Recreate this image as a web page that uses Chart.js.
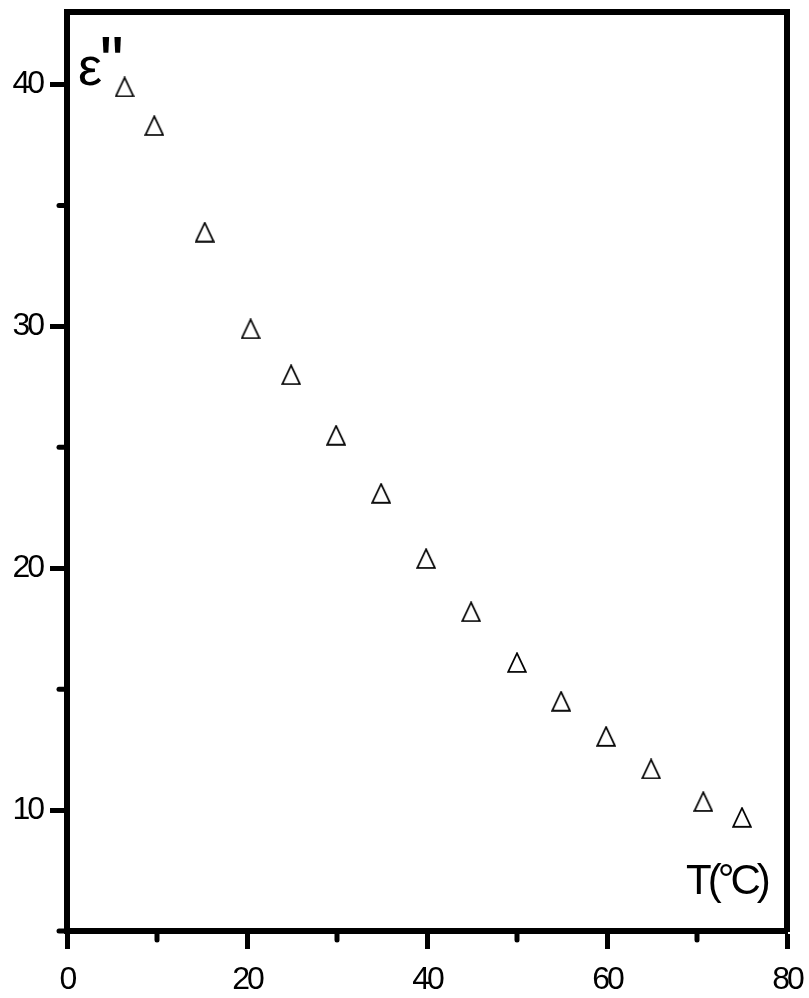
<!DOCTYPE html>
<html>
<head>
<meta charset="utf-8">
<script src="https://cdn.jsdelivr.net/npm/chart.js@4.4.1/dist/chart.umd.min.js"></script>
<style>
  body { margin: 0; background: #fff; }
  #wrap { width: 809px; height: 998px; }
</style>
</head>
<body>
<div id="wrap"><canvas id="lossChart"></canvas></div>
<script>
// dielectric loss vs temperature
const temperature = [6.4, 9.7, 15.3, 20.4, 24.9, 29.9, 34.9, 39.9, 44.9, 50.0, 54.9, 59.9, 64.9, 70.7, 75.0];
const lossFactor = [39.9, 38.3, 33.9, 29.9, 28.0, 25.5, 23.1, 20.4, 18.2, 16.1, 14.5, 13.05, 11.7, 10.35, 9.7];

const xTicks = [0, 20, 40, 60, 80];
const yTicks = [10, 20, 30, 40];
const xMinorTicks = [10, 30, 50, 70];
const yMinorTicks = [5, 15, 25, 35];

const FONT = "'Liberation Sans', Arial, sans-serif";

// open triangle marker
function makeTriangle(){
    const c = document.createElement("canvas");
    c.width = 20;
    c.height = 21;
    const g = c.getContext("2d");
    g.strokeStyle = "#000";
    g.lineWidth = 1.7;
    g.lineJoin = "miter";
    g.beginPath();
    g.moveTo(10, 1.2);
    g.lineTo(18.8, 19.8);
    g.lineTo(1.2, 19.8);
    g.closePath();
    g.stroke();
    return c;
}

// no extra room for labels hanging past the frame
function noOverhang(scale){
    scale.paddingTop = 0;
    scale.paddingBottom = 0;
    scale.paddingLeft = 0;
    scale.paddingRight = 0;
}

const tightText = {
    id: "tightText",
    beforeDraw(chart){
        chart.ctx.letterSpacing = "-3px";
    }
};

const minorTicks = {
    id: "minorTicks",
    afterDraw(chart){
        const ctx = chart.ctx;
        const area = chart.chartArea;
        ctx.save();
        ctx.strokeStyle = "#000";
        ctx.lineWidth = 5;
        ctx.lineCap = "round";
        xMinorTicks.forEach(function(v){
            const x = chart.scales.x.getPixelForValue(v);
            ctx.beginPath();
            ctx.moveTo(x, area.bottom);
            ctx.lineTo(x, area.bottom + 9);
            ctx.stroke();
        });
        yMinorTicks.forEach(function(v){
            const y = chart.scales.y.getPixelForValue(v);
            ctx.beginPath();
            ctx.moveTo(area.left, y);
            ctx.lineTo(area.left - 8, y);
            ctx.stroke();
        });
        ctx.restore();
    }
};

const axisNames = {
    id: "axisNames",
    afterDraw(chart){
        const ctx = chart.ctx;
        const area = chart.chartArea;
        ctx.save();
        ctx.fillStyle = "#000";
        ctx.textAlign = "left";
        ctx.textBaseline = "alphabetic";

        ctx.letterSpacing = "0px";
        ctx.font = "54px " + FONT;
        ctx.fillText("ε", area.left + 11, area.top + 73);
        ctx.font = "72px " + FONT;
        ctx.letterSpacing = "-2px";
        ctx.fillText("''", area.left + 32, area.top + 75);

        ctx.font = "42px " + FONT;
        ctx.letterSpacing = "-4px";
        ctx.fillText("T(°C)", area.right - 101, area.bottom - 37);
        ctx.restore();
    }
};

const ctx = document.getElementById("lossChart");

new Chart(ctx, {
    type: "scatter",
    data: {
        datasets: [{
            label: "ε''",
            data: temperature.map(function(t, i){ return { x: t, y: lossFactor[i] }; }),
            pointStyle: makeTriangle(),
            showLine: false
        }]
    },
    options: {
        responsive: true,
        maintainAspectRatio: false,
        animation: false,
        layout: {
            padding: { top: 12, right: 22, left: 0, bottom: 0 }
        },
        plugins: {
            legend: { display: false },
            tooltip: { enabled: false }
        },
        scales: {
            x: {
                type: "linear",
                position: "bottom",
                min: 0,
                max: 80,
                afterBuildTicks: function(scale){
                    scale.ticks = xTicks.map(function(v){ return { value: v }; });
                },
                afterFit: function(scale){ scale.height = 67; noOverhang(scale); },
                grid: {
                    drawOnChartArea: false,
                    drawTicks: true,
                    tickLength: 18,
                    tickWidth: 5,
                    tickColor: "#000"
                },
                border: { display: true, color: "#000", width: 6 },
                ticks: {
                    color: "#000",
                    padding: 12,
                    maxRotation: 0,
                    font: { family: FONT, size: 32 }
                }
            },
            y: {
                type: "linear",
                position: "left",
                min: 5,
                max: 43,
                afterBuildTicks: function(scale){
                    scale.ticks = yTicks.map(function(v){ return { value: v }; });
                },
                afterFit: function(scale){ scale.width = 67; noOverhang(scale); },
                grid: {
                    drawOnChartArea: false,
                    drawTicks: true,
                    tickLength: 17,
                    tickWidth: 5,
                    tickColor: "#000"
                },
                border: { display: true, color: "#000", width: 6 },
                ticks: {
                    color: "#000",
                    padding: 8,
                    font: { family: FONT, size: 32 }
                }
            },
            xTop: {
                type: "linear",
                position: "top",
                min: 0,
                max: 80,
                afterFit: function(scale){ scale.height = 0; noOverhang(scale); },
                grid: { drawOnChartArea: false, drawTicks: false },
                border: { display: true, color: "#000", width: 6 },
                ticks: { display: false }
            },
            yRight: {
                type: "linear",
                position: "right",
                min: 5,
                max: 43,
                afterFit: function(scale){ scale.width = 0; noOverhang(scale); },
                grid: { drawOnChartArea: false, drawTicks: false },
                border: { display: true, color: "#000", width: 6 },
                ticks: { display: false }
            }
        }
    },
    plugins: [tightText, minorTicks, axisNames]
});
</script>
</body>
</html>
